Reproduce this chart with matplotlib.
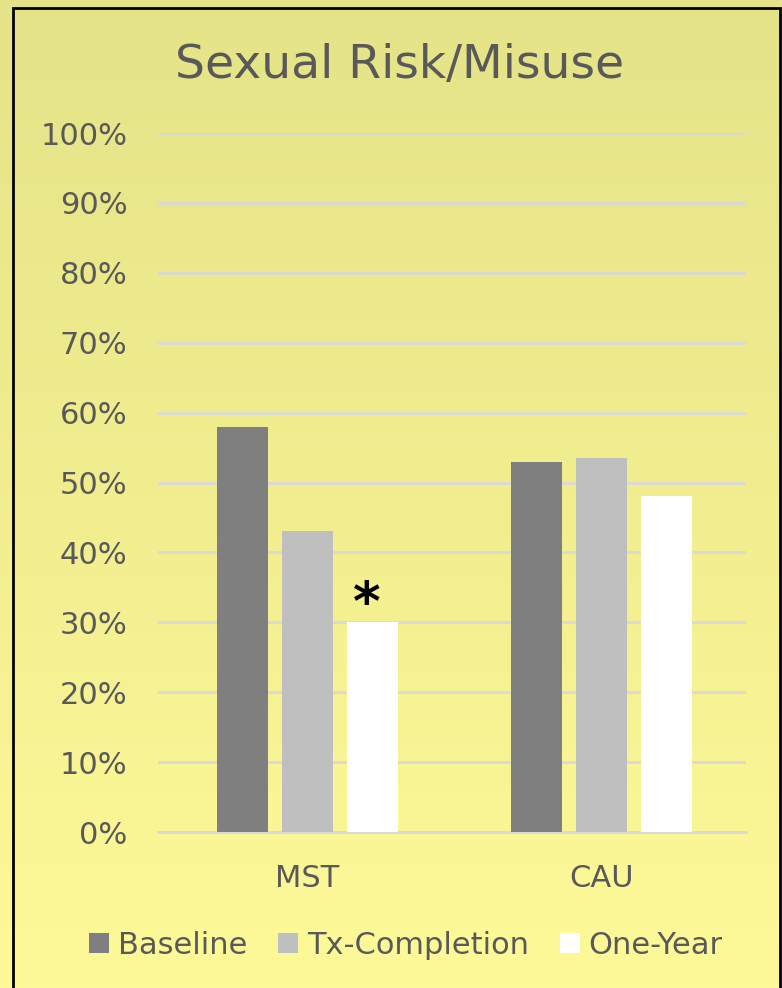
import numpy as np
import matplotlib
matplotlib.use('Agg')
import matplotlib.pyplot as plt
from matplotlib.patches import Rectangle

# data
groups = ['MST', 'CAU']
series = ['Baseline', 'Tx-Completion', 'One-Year']
baseline = [0.58, 0.53]
tx_completion = [0.43, 0.535]
one_year = [0.30, 0.48]
colors = ['#7f7f7f', '#bfbfbf', '#ffffff']
yticks = [0, 0.1, 0.2, 0.3, 0.4, 0.5, 0.6, 0.7, 0.8, 0.9, 1.0]
ytick_labels = ['0%', '10%', '20%', '30%', '40%', '50%', '60%', '70%', '80%', '90%', '100%']

W, H = 782, 988
fig = plt.figure(figsize=(W / 100, H / 100), dpi=100)
plt.rcParams['font.family'] = ['DejaVu Sans']
txt = '#595959'

# gradient background
bg = fig.add_axes([0, 0, 1, 1], zorder=-5)
grad = np.linspace(0, 1, 256).reshape(-1, 1)
c_top = np.array([229, 227, 136]) / 255
c_bot = np.array([254, 249, 152]) / 255
img = c_top[None, None, :] * (1 - grad[:, :, None]) + c_bot[None, None, :] * grad[:, :, None]
bg.imshow(img, aspect='auto', extent=[0, 1, 0, 1])
bg.set_axis_off()

# border
fig.patches.append(Rectangle((13 / W, -0.01), (780 - 13) / W, 1 - 8 / H + 0.01,
                             transform=fig.transFigure, fill=False, ec='black', lw=2))

ax = fig.add_axes([158 / W, 1 - 832 / H, (746 - 158) / W, (832 - 133) / H])
ax.set_facecolor('none')

x = np.arange(len(groups))
w = 0.173
step = 0.222
off = 0.008
for i, (vals, name) in enumerate(zip([baseline, tx_completion, one_year], series)):
    ax.bar(x + off + (i - 1) * step, vals, w, color=colors[i], label=name, zorder=3)

ax.set_ylim(0, 1.0)
ax.set_xlim(-0.5, 1.5)
ax.set_yticks(yticks)
ax.set_yticklabels(ytick_labels)
ax.grid(axis='y', color='#d9d9d9', lw=2, zorder=0)
ax.axhline(0, color='#d9d9d9', lw=2, zorder=1, clip_on=False)
ax.set_axisbelow(True)
for s in ax.spines.values():
    s.set_visible(False)
ax.tick_params(axis='y', length=0, labelsize=22, labelcolor=txt, pad=22)
ax.set_xticks(x + off)
ax.set_xticklabels(groups)
ax.tick_params(axis='x', length=0, labelsize=22, labelcolor=txt, pad=23)

# significance marker
ax.text(x[0] + off + step - 0.02, 0.325, '*', ha='center', va='center',
        fontsize=38, fontweight='bold', color='black')

fig.text(400 / W, 1 - 65 / H, 'Sexual Risk/Misuse', ha='center', va='center',
         fontsize=34, color=txt)

leg = fig.legend(loc='center', bbox_to_anchor=(406 / W, 1 - 945 / H), ncol=3,
                 frameon=False, fontsize=22, handlelength=0.65, handleheight=0.65,
                 handletextpad=0.3, columnspacing=1.0)
for t in leg.get_texts():
    t.set_color(txt)

fig.savefig('out.png', dpi=100)
